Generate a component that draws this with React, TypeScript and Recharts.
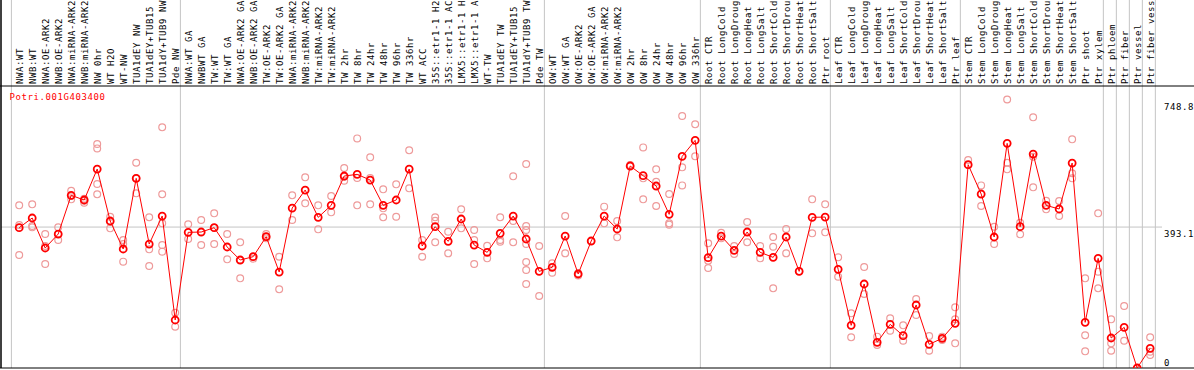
import { ScatterChart, Scatter, XAxis, YAxis, ReferenceLine } from "recharts";

// sample labels, left to right
const categories = [
  "NWA:WT", "NWB:WT", "NWA:OE-ARK2", "NWB:OE-ARK2", "NWA:miRNA-ARK2", "NWB:miRNA-ARK2", "NW 0hr", "WT H2O", "WT-NW",
  "TUA1dEY NW", "TUA1dEY+TUB15 NW", "TUA1dY+TUB9 NW", "Pde NW",
  "NWA:WT GA", "NWBWT GA", "TW:WT", "TW:WT GA", "NWA:OE-ARK2 GA", "NWB:OE-ARK2 GA", "TW:OE-ARK2", "TW:OE-ARK2 GA",
  "NWA:miRNA-ARK2", "NWB:miRNA-ARK2", "TW:miRNA-ARK2", "TW:miRNA-ARK2", "TW 2hr", "TW 8hr", "TW 24hr", "TW 48hr",
  "TW 96hr", "TW 336hr", "WT ACC", "35S::etr1-1 H2O", "35S::etr1-1 ACC", "LMX5::etr1-1 H2O", "LMX5::etr1-1 ACC",
  "WT-TW", "TUA1dEY TW", "TUA1dEY+TUB15 TW", "TUA1dY+TUB9 TW", "Pde TW",
  "OW:WT", "OW:WT GA", "OW:OE-ARK2", "OW:OE-ARK2 GA", "OW:miRNA-ARK2", "OW:miRNA-ARK2", "OW 2hr", "OW 8hr",
  "OW 24hr", "OW 48hr", "OW 96hr", "OW 336hr",
  "Root CTR", "Root LongCold", "Root LongDrought", "Root LongHeat", "Root LongSalt", "Root ShortCold",
  "Root ShortDrought", "Root ShortHeat", "Root ShortSalt", "Ptr root",
  "Leaf CTR", "Leaf LongCold", "Leaf LongDrought", "Leaf LongHeat", "Leaf LongSalt", "Leaf ShortCold",
  "Leaf ShortDrought", "Leaf ShortHeat", "Leaf ShortSalt", "Ptr leaf",
  "Stem CTR", "Stem LongCold", "Stem LongDrought", "Stem LongHeat", "Stem LongSalt", "Stem ShortCold",
  "Stem ShortDrought", "Stem ShortHeat", "Stem ShortSalt", "Ptr shoot", "Ptr xylem",
  "Ptr phloem", "Ptr fiber", "Ptr vessel", "Ptr fiber vessel",
];

// first sample of each block (separator drawn just before it), plus the end
const groupStarts = [0, 13, 41, 53, 63, 73, 84, 85, 86, 87, 88];

const means = [
  391.4, 418.4, 334.7, 373.7, 481.6, 468.6, 555.0, 410.0, 331.9, 529.0, 345.8, 423.9, 133.9,
  378.4, 379.3, 391.4, 337.5, 301.2, 310.5, 366.3, 267.7, 446.2, 496.4, 420.2, 453.7, 535.5, 540.1, 524.3,
  453.7, 468.6, 555.0, 340.3, 394.2, 353.3, 415.6, 343.0, 322.6, 375.6, 423.9, 359.8, 269.6,
  280.8, 368.1, 262.2, 354.2, 423.9, 387.7, 563.4, 536.4, 507.6, 428.6, 590.3, 635.0,
  307.7, 368.1, 328.2, 379.3, 322.6, 308.6, 365.4, 269.6, 420.2, 421.1,
  275.2, 119.0, 234.3, 71.6, 121.8, 90.2, 175.7, 66.0, 82.7, 124.6,
  567.1, 485.3, 365.4, 626.6, 394.2, 596.8, 453.7, 443.5, 571.7, 127.4, 305.9,
  83.7, 113.4, 0, 54.9,
];

const replicates = [
  [453.7, 398.8, 315.2], [456.5, 396.0, 392.3], [373.7, 340.3, 290.1], [392.3, 357.0, 373.7],
  [494.6, 479.7, 470.4], [472.3, 466.7, 461.1], [624.7, 612.6, 513.2, 484.4], [422.1, 389.5, 408.1],
  [357.0, 345.8, 296.6], [572.7, 487.1, 529.0], [420.2, 331.0, 284.5], [671.2, 484.4, 403.5, 343.0, 324.5],
  [154.3, 115.3],
  [400.7, 359.8], [412.8, 343.0], [431.4, 391.4, 345.8], [373.7, 303.1], [350.5, 250.1, 301.2], [310.5, 305.0],
  [373.7, 366.3, 361.6], [310.5, 219.4], [481.6, 412.8], [531.8, 459.3], [453.7, 386.7], [479.7, 434.2],
  [557.8, 522.5, 533.6], [640.5, 529.9, 453.7], [587.6, 529.9, 456.5], [498.3, 445.3, 420.2], [512.2, 422.1],
  [607.1, 501.1], [357.0, 310.5], [420.2, 410.9, 350.5], [380.2, 319.8], [442.5, 389.5], [384.9, 357.0, 290.1],
  [341.2, 305.9], [420.2, 352.3, 357.0], [534.6, 410.0, 350.5], [569.0, 396.0, 384.9, 345.8, 295.6, 273.3, 234.3],
  [340.3, 200.8],
  [291.9, 265.9], [423.9, 319.8], [264.0, 258.0], [354.2], [450.0, 403.5], [410.0, 364.4], [566.2],
  [615.4, 529.0, 470.4], [554.1, 519.7, 451.8], [485.3, 403.5, 399.8], [702.8, 559.7, 509.4], [679.6, 590.3],
  [347.7, 299.3, 278.9], [377.4, 361.6], [340.3, 317.9], [407.2, 350.5], [340.3, 305.9], [365.4, 338.4, 222.2],
  [387.7, 319.8], [269.6], [470.4, 375.6], [456.5, 378.4],
  [308.6, 254.7], [152.5, 85.5], [281.7, 206.4], [87.4, 64.1], [138.5, 104.1], [119.0, 76.2], [192.4, 147.8],
  [89.2, 48.3], [87.4, 78.1], [169.2, 135.7, 68.8],
  [580.1, 566.2], [509.4, 451.8], [394.2, 345.8], [748.8, 572.7, 554.1], [405.3, 372.8], [699.1, 589.4, 503.9],
  [466.7, 442.5], [465.8, 423.9], [637.8, 542.9, 529.0], [250.1, 91.1, 46.5], [431.4, 268.7, 222.2],
  [135.7, 68.8, 48.3], [172.9, 76.2], [0], [85.5, 45.6, 36.3],
];

const valueTicks = [0, 393.1, 748.8];
const geneId = "Potri.001G403400";

const W = 1194;
const H = 370;
const FONT = "DejaVu Sans Mono, monospace";
const GRID = "#c4c4c4";

const meanData = means.map((y, x) => ({ x, y }));
const repData = replicates.flatMap((arr, x) => arr.map((y) => ({ x, y })));
const tickIdx = categories.map((_, i) => i);

const CatTick = (props: any) => {
  const { x, y, payload } = props;
  const tx = x + 4;
  return (
    <text x={tx} y={y} transform={`rotate(-90 ${tx} ${y})`} fontFamily={FONT} fontSize={9}
      letterSpacing={0.58} fill="#000" textAnchor="start">
      {categories[payload.value]}
    </text>
  );
};

const ValTick = (props: any) => {
  const { x, y, payload } = props;
  return (
    <text x={x} y={payload.value === 0 ? y - 2.5 : y + 10} fontFamily={FONT} fontSize={9}
      letterSpacing={0.58} fill="#000" textAnchor="start">
      {String(payload.value)}
    </text>
  );
};

const RepDot = (p: any) => <circle cx={p.cx} cy={p.cy} r={3.4} fill="none" stroke="#ee9a9a" strokeWidth={1.2} />;
const MeanDot = (p: any) => <circle cx={p.cx} cy={p.cy} r={3.5} fill="none" stroke="#ff0000" strokeWidth={1.8} />;

const vLine = (stroke: string, w = 1) => (p: any) =>
  <line x1={p.x1} x2={p.x2} y1={0} y2={Math.max(p.y1, p.y2)} stroke={stroke} strokeWidth={w} />;
const hLine = (stroke: string, x1: number, x2: number) => (p: any) =>
  <line x1={x1} x2={x2} y1={p.y1} y2={p.y2} stroke={stroke} strokeWidth={1} />;

export default function App() {
  return (
    <div style={{ position: "absolute", left: 0, top: 0, width: W, height: H, background: "#fff" }}>
      <ScatterChart width={W} height={H} margin={{ top: 0, right: 0, bottom: 2, left: 1 }}>
        <XAxis type="number" dataKey="x" orientation="top" height={86} domain={[-1.4, 87.45]}
          allowDataOverflow ticks={tickIdx} interval={0} tick={<CatTick />} tickLine={false}
          axisLine={false} tickSize={0} tickMargin={2} />
        <YAxis type="number" dataKey="y" orientation="right" width={38} domain={[0, 786.6]}
          allowDataOverflow ticks={valueTicks} interval={0} tick={<ValTick />} tickLine={false}
          axisLine={false} tickSize={0} tickMargin={8} />
        {groupStarts.map((s) => (
          <ReferenceLine key={s} x={s - 0.6} shape={vLine(GRID)} />
        ))}
        <ReferenceLine y={393.1} shape={hLine(GRID, 1, 1162)} />
        <ReferenceLine x={-1.4} shape={vLine("#000", 1.5)} />
        <ReferenceLine y={786.6} shape={hLine("#000", 0, W)} />
        <ReferenceLine y={0} shape={hLine("#000", 0, W)} />
        <Scatter data={repData} shape={RepDot} isAnimationActive={false} />
        <Scatter data={meanData} shape={MeanDot} line={{ stroke: "#ff0000", strokeWidth: 1 }}
          lineType="joint" isAnimationActive={false} />
      </ScatterChart>
      <svg width={200} height={20} style={{ position: "absolute", left: 0, top: 88 }}>
        <text x={9.5} y={11.5} fontFamily={FONT} fontSize={9} letterSpacing={0.58} fill="#ff0000">{geneId}</text>
      </svg>
    </div>
  );
}
